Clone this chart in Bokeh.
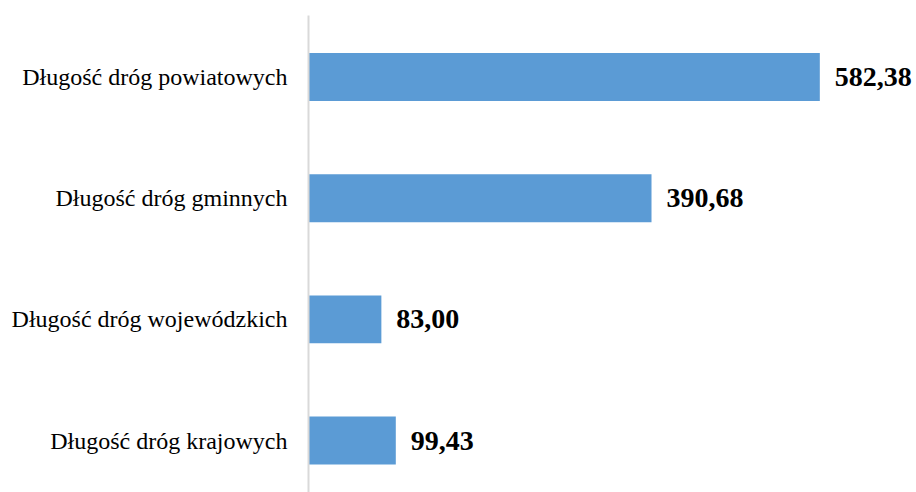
from bokeh.plotting import figure
from bokeh.models import Range1d, FixedTicker, ColumnDataSource, LabelSet
from bokeh.embed import file_html
from bokeh.resources import INLINE

categories = ["Długość dróg krajowych", "Długość dróg wojewódzkich",
              "Długość dróg gminnych", "Długość dróg powiatowych"]
values = [99.43, 83.00, 390.68, 582.38]
value_labels = ["99,43", "83,00", "390,68", "582,38"]

positions = list(range(len(categories)))

source = ColumnDataSource(dict(y=positions, v=values, lab=value_labels))

p = figure(width=916, height=492, output_backend="svg", toolbar_location=None,
           x_range=Range1d(0, 692.5), y_range=Range1d(-0.429, 3.508),
           x_axis_location=None, min_border_left=308, min_border_right=0,
           min_border_top=15, min_border_bottom=0)
p.outline_line_color = None
p.background_fill_color = "white"
p.border_fill_color = "white"
p.xgrid.visible = False
p.ygrid.visible = False

p.hbar(y="y", right="v", left=0, height=0.395, source=source,
       fill_color="#5B9BD5", line_color=None)

yax = p.yaxis[0]
yax.ticker = FixedTicker(ticks=positions)
yax.major_label_overrides = {i: c for i, c in zip(positions, categories)}
yax.axis_line_color = "#D9D9D9"
yax.axis_line_width = 2
yax.major_tick_line_color = None
yax.minor_tick_line_color = None
yax.major_tick_out = 0
yax.major_tick_in = 0
yax.major_label_standoff = 21
yax.major_label_text_font = "Liberation Serif"
yax.major_label_text_font_size = "24px"
yax.major_label_text_color = "#000000"

labels = LabelSet(x="v", y="y", text="lab", source=source, x_offset=15,
                  text_baseline="middle", text_align="left",
                  text_font="Liberation Serif", text_font_style="bold",
                  text_font_size="28px", text_color="#000000")
p.add_layout(labels)

open("out.html", "w").write(file_html(p, INLINE))
